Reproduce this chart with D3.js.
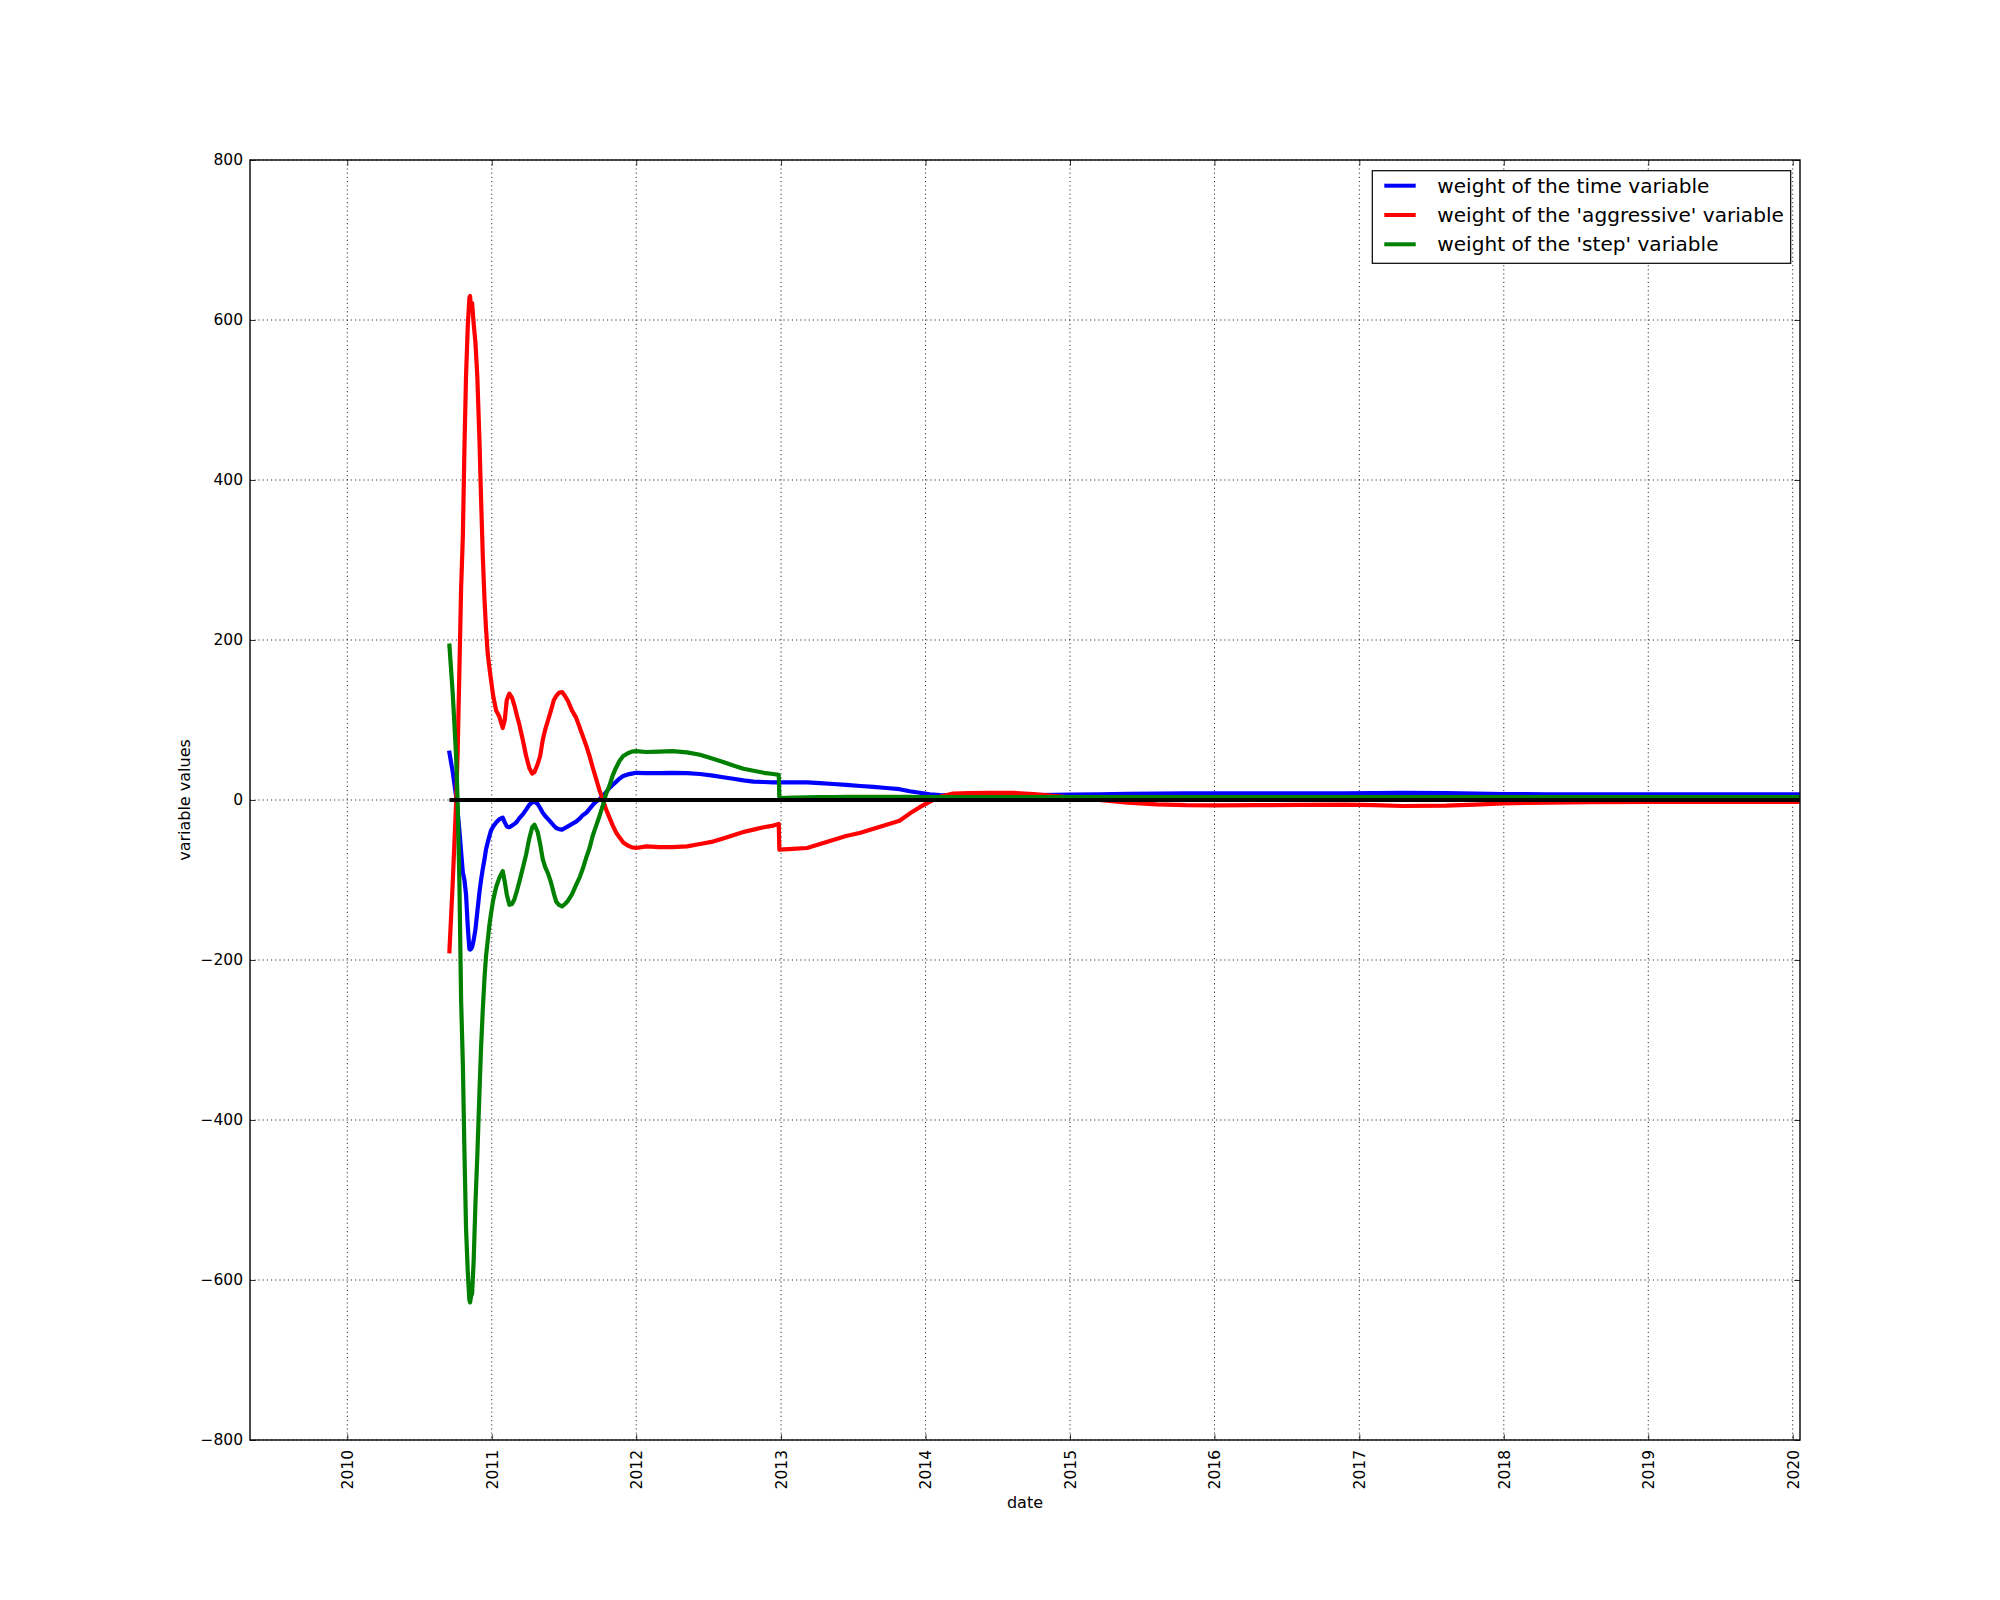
<!DOCTYPE html>
<html>
<head>
<meta charset="utf-8">
<script src="https://cdn.jsdelivr.net/npm/d3@7/dist/d3.min.js"></script>
<style>
  html, body { margin: 0; padding: 0; background: #ffffff; }
  svg { display: block; }
  text { font-family: "DejaVu Sans", sans-serif; fill: #000; }
</style>
</head>
<body>
<script>
// ---- data (dates as decimal years) ----
const dates = [
  2010.707, 2010.73, 2010.753, 2010.764, 2010.776, 2010.788, 2010.80, 2010.811, 2010.822, 2010.834,
  2010.845, 2010.85, 2010.857, 2010.864, 2010.875, 2010.887, 2010.90, 2010.915, 2010.926, 2010.938,
  2010.95, 2010.96, 2010.972, 2010.984, 2010.995, 2011.01, 2011.03, 2011.053, 2011.076, 2011.09,
  2011.104, 2011.122, 2011.14, 2011.157, 2011.175, 2011.19, 2011.215, 2011.238, 2011.26, 2011.28,
  2011.296, 2011.318, 2011.335, 2011.353, 2011.37, 2011.39, 2011.41, 2011.43, 2011.446, 2011.465,
  2011.487, 2011.507, 2011.527, 2011.555, 2011.584, 2011.61, 2011.63, 2011.654, 2011.677, 2011.70,
  2011.723, 2011.746, 2011.77, 2011.792, 2011.815, 2011.838, 2011.862, 2011.885, 2011.91, 2011.942,
  2011.97, 2012.0, 2012.07, 2012.16, 2012.25, 2012.35, 2012.44, 2012.53, 2012.6, 2012.67,
  2012.74, 2012.81, 2012.88, 2012.946, 2012.984, 2012.988, 2013.08, 2013.18, 2013.27, 2013.36,
  2013.45, 2013.55, 2013.64, 2013.73, 2013.82, 2013.89, 2013.96, 2014.03, 2014.1, 2014.19,
  2014.3, 2014.45, 2014.6, 2014.75, 2014.9, 2015.0, 2015.2, 2015.4, 2015.6, 2015.8,
  2016.0, 2016.3, 2016.6, 2016.9, 2017.1, 2017.3, 2017.6, 2017.8, 2018.0, 2018.3,
  2018.6, 2019.0, 2019.5, 2020.06
];
const timeWeight = [
  59, 35, 5, -15, -38, -65, -91, -100, -118, -158,
  -186, -187, -186, -184, -175, -162, -140, -115, -100, -86,
  -74, -62, -53, -45, -38, -33, -28, -24, -22, -28,
  -33, -34, -32, -30, -27, -23, -18, -12, -6, -3,
  -2, -5, -10, -16, -20, -24, -28, -32, -35, -36.5,
  -37, -35, -33, -30, -27, -23, -19, -16, -11, -6,
  -2, 1, 5, 10, 15, 19, 23, 27, 30, 32,
  33, 34, 33.5, 33.5, 34, 33.5, 32.5, 30.5, 28.5, 26.5,
  24.5, 23, 22.5, 22, 22, 22, 22, 22, 21, 20,
  19, 17.5, 16.5, 15, 13.5, 11, 9, 7, 6, 5.5,
  5.5, 5.8, 6, 6.2, 6.5, 6.7, 7.2, 7.7, 8, 8.3,
  8.3, 8.3, 8.2, 8.2, 8.6, 9, 8.5, 8, 7.5, 7.2,
  7, 7, 7, 7
];
const aggressiveWeight = [
  -189, -103, -5, 60, 162, 265, 330, 440, 530, 592,
  627, 630, 612, 621, 595, 572, 530, 449, 377, 305,
  250, 215, 183, 165, 150, 130, 112, 104, 90, 100,
  125, 133, 128, 118, 105, 95, 75, 55, 40, 33,
  35, 45, 55, 75, 88, 100, 112, 125, 130, 134,
  135, 130, 124, 112, 103, 90, 80, 68, 55, 40,
  26, 12, 0, -12, -22, -32, -41, -47, -53, -57,
  -59, -60, -58, -59, -59, -58, -55, -52, -48, -44,
  -40, -37, -34, -32, -30, -62, -61, -60, -55, -50,
  -45, -41, -36, -31, -26, -17, -9, -2, 4, 8,
  8.5, 9, 9, 7.5, 5, 3.3, 0, -3.3, -5.5, -6.5,
  -6.7, -6.5, -6.2, -5.8, -6.5, -7.5, -7, -5.8, -4.2, -3.2,
  -2.8, -2.5, -2.5, -2.5
];
const stepWeight = [
  193, 133, 56, -3, -103, -251, -330, -440, -535, -590,
  -625, -628, -620, -617, -575, -505, -445, -365, -310, -262,
  -222, -196, -176, -156, -142, -125, -109, -97, -89, -102,
  -118, -131, -130, -124, -113, -103, -85, -68, -48, -34,
  -31, -40, -55, -74, -84, -92, -103, -117, -127, -131,
  -133, -130, -126, -118, -106, -96, -86, -72, -60, -44,
  -32, -20, -6, 8, 18, 31, 41, 49, 55, 58.5,
  60.5, 61, 60, 60.5, 61, 59.5, 56.5, 51.5, 47.5, 43,
  39, 36.5, 34, 32.5, 31.5, 2.5, 3, 3.3, 3.5, 3.7,
  4, 4, 4, 4, 4, 3.8, 3.6, 3.5, 3.5, 3.5,
  3.5, 3.5, 3.5, 3.5, 3.5, 3.5, 3.5, 3.5, 3.5, 3.5,
  3.5, 3.5, 3.5, 3.5, 3.5, 3.5, 3.5, 3.5, 3.5, 3.5,
  3.5, 3.5, 3.5, 3.5
];
const seriesNames = [
  "weight of the time variable",
  "weight of the 'aggressive' variable",
  "weight of the 'step' variable"
];
const seriesColors = ["#0000ff", "#ff0000", "#008000"];
const yTicks = [-800, -600, -400, -200, 0, 200, 400, 600, 800];
const xTickYears = [2010, 2011, 2012, 2013, 2014, 2015, 2016, 2017, 2018, 2019, 2020];

(function () {
  function decYear(v) {
    const yr = Math.floor(v);
    const s = Date.UTC(yr, 0, 1), e = Date.UTC(yr + 1, 0, 1);
    return new Date(s + (v - yr) * (e - s));
  }
  const DAY = 864e5;

  const W = 2000, H = 1600;
  const mL = 250, mR = 1800, mT = 160, mB = 1440;

  const svg = d3.select("body").append("svg").attr("width", W).attr("height", H);
  svg.append("rect").attr("width", W).attr("height", H).attr("fill", "#fff");

  const x = d3.scaleUtc()
    .domain([new Date(Date.UTC(2010, 0, 1) - 245.8 * DAY), new Date(Date.UTC(2020, 0, 1) + 18.4 * DAY)])
    .range([mL, mR]);
  const y = d3.scaleLinear().domain([-800, 800]).range([mB, mT]);

  const xTickDates = xTickYears.map(yr => new Date(Date.UTC(yr, 0, 1)));

  // grid
  const grid = svg.append("g");
  grid.selectAll("line.gx").data(xTickDates).join("line")
    .attr("x1", d => x(d)).attr("x2", d => x(d)).attr("y1", mT).attr("y2", mB)
    .attr("stroke", "#000").attr("stroke-width", 0.8).attr("stroke-dasharray", "1.2,3");
  grid.selectAll("line.gy").data(yTicks).join("line")
    .attr("x1", mL).attr("x2", mR).attr("y1", d => y(d)).attr("y2", d => y(d))
    .attr("stroke", "#000").attr("stroke-width", 0.8).attr("stroke-dasharray", "1.2,3");

  svg.append("clipPath").attr("id", "plotclip").append("rect")
    .attr("x", mL).attr("y", mT).attr("width", mR - mL).attr("height", mB - mT);

  const pts = dates.map((d, i) => ({ t: decYear(d), a: timeWeight[i], b: aggressiveWeight[i], c: stepWeight[i] }));
  const plot = svg.append("g").attr("clip-path", "url(#plotclip)");
  ["a", "b", "c"].forEach((k, i) => {
    const line = d3.line().x(p => x(p.t)).y(p => y(p[k]));
    plot.append("path").datum(pts).attr("d", line)
      .attr("fill", "none").attr("stroke", seriesColors[i]).attr("stroke-width", 4.2)
      .attr("stroke-linejoin", "round").attr("stroke-linecap", "square");
  });
  const zeroLine = d3.line().x(p => x(p.t)).y(() => y(0));
  plot.append("path").datum(pts).attr("d", zeroLine)
    .attr("fill", "none").attr("stroke", "#000").attr("stroke-width", 4.2).attr("stroke-linecap", "butt");

  const TICK = 5.6;
  const fmtMinus = d => d < 0 ? "\u2212" + Math.abs(d) : String(d);
  const yAxis = svg.append("g").attr("transform", `translate(${mL},0)`)
    .call(d3.axisLeft(y).tickValues(yTicks).tickSize(-TICK).tickPadding(7).tickFormat(fmtMinus));
  const yAxisR = svg.append("g").attr("transform", `translate(${mR},0)`)
    .call(d3.axisRight(y).tickValues(yTicks).tickSize(-TICK).tickFormat(""));
  const xAxis = svg.append("g").attr("transform", `translate(0,${mB})`)
    .call(d3.axisBottom(x).tickValues(xTickDates).tickSize(-TICK).tickFormat(d3.utcFormat("%Y")));
  const xAxisT = svg.append("g").attr("transform", `translate(0,${mT})`)
    .call(d3.axisTop(x).tickValues(xTickDates).tickSize(-TICK).tickFormat(""));

  [yAxis, yAxisR, xAxis, xAxisT].forEach(g => {
    g.select(".domain").remove();
    g.selectAll(".tick line").attr("stroke", "#000").attr("stroke-width", 0.8);
    g.selectAll("text").attr("font-family", "DejaVu Sans").attr("font-size", 15.5).attr("fill", "#000");
  });
  xAxis.selectAll(".tick text")
    .attr("transform", "rotate(-90)")
    .attr("text-anchor", "end")
    .attr("x", -10).attr("y", 0).attr("dy", "0.35em");

  svg.append("rect").attr("x", mL).attr("y", mT).attr("width", mR - mL).attr("height", mB - mT)
    .attr("fill", "none").attr("stroke", "#000").attr("stroke-width", 1.4);

  svg.append("text").attr("x", (mL + mR) / 2).attr("y", 1508)
    .attr("text-anchor", "middle").attr("font-size", 16).text("date");
  svg.append("text").attr("transform", "translate(190,800) rotate(-90)")
    .attr("text-anchor", "middle").attr("font-size", 16).text("variable values");

  const lg = svg.append("g");
  lg.append("rect").attr("x", 1372.3).attr("y", 170.7).attr("width", 418.4).attr("height", 92.6)
    .attr("fill", "#fff").attr("stroke", "#000").attr("stroke-width", 1.2);
  seriesNames.forEach((name, i) => {
    const yy = 185.7 + i * 29.3;
    lg.append("line").attr("x1", 1384.3).attr("x2", 1415.7).attr("y1", yy).attr("y2", yy)
      .attr("stroke", seriesColors[i]).attr("stroke-width", 4);
    lg.append("text").attr("x", 1437.3).attr("y", yy).attr("dy", "0.35em")
      .attr("font-size", 20.1).text(name);
  });
})();
</script>
</body>
</html>
